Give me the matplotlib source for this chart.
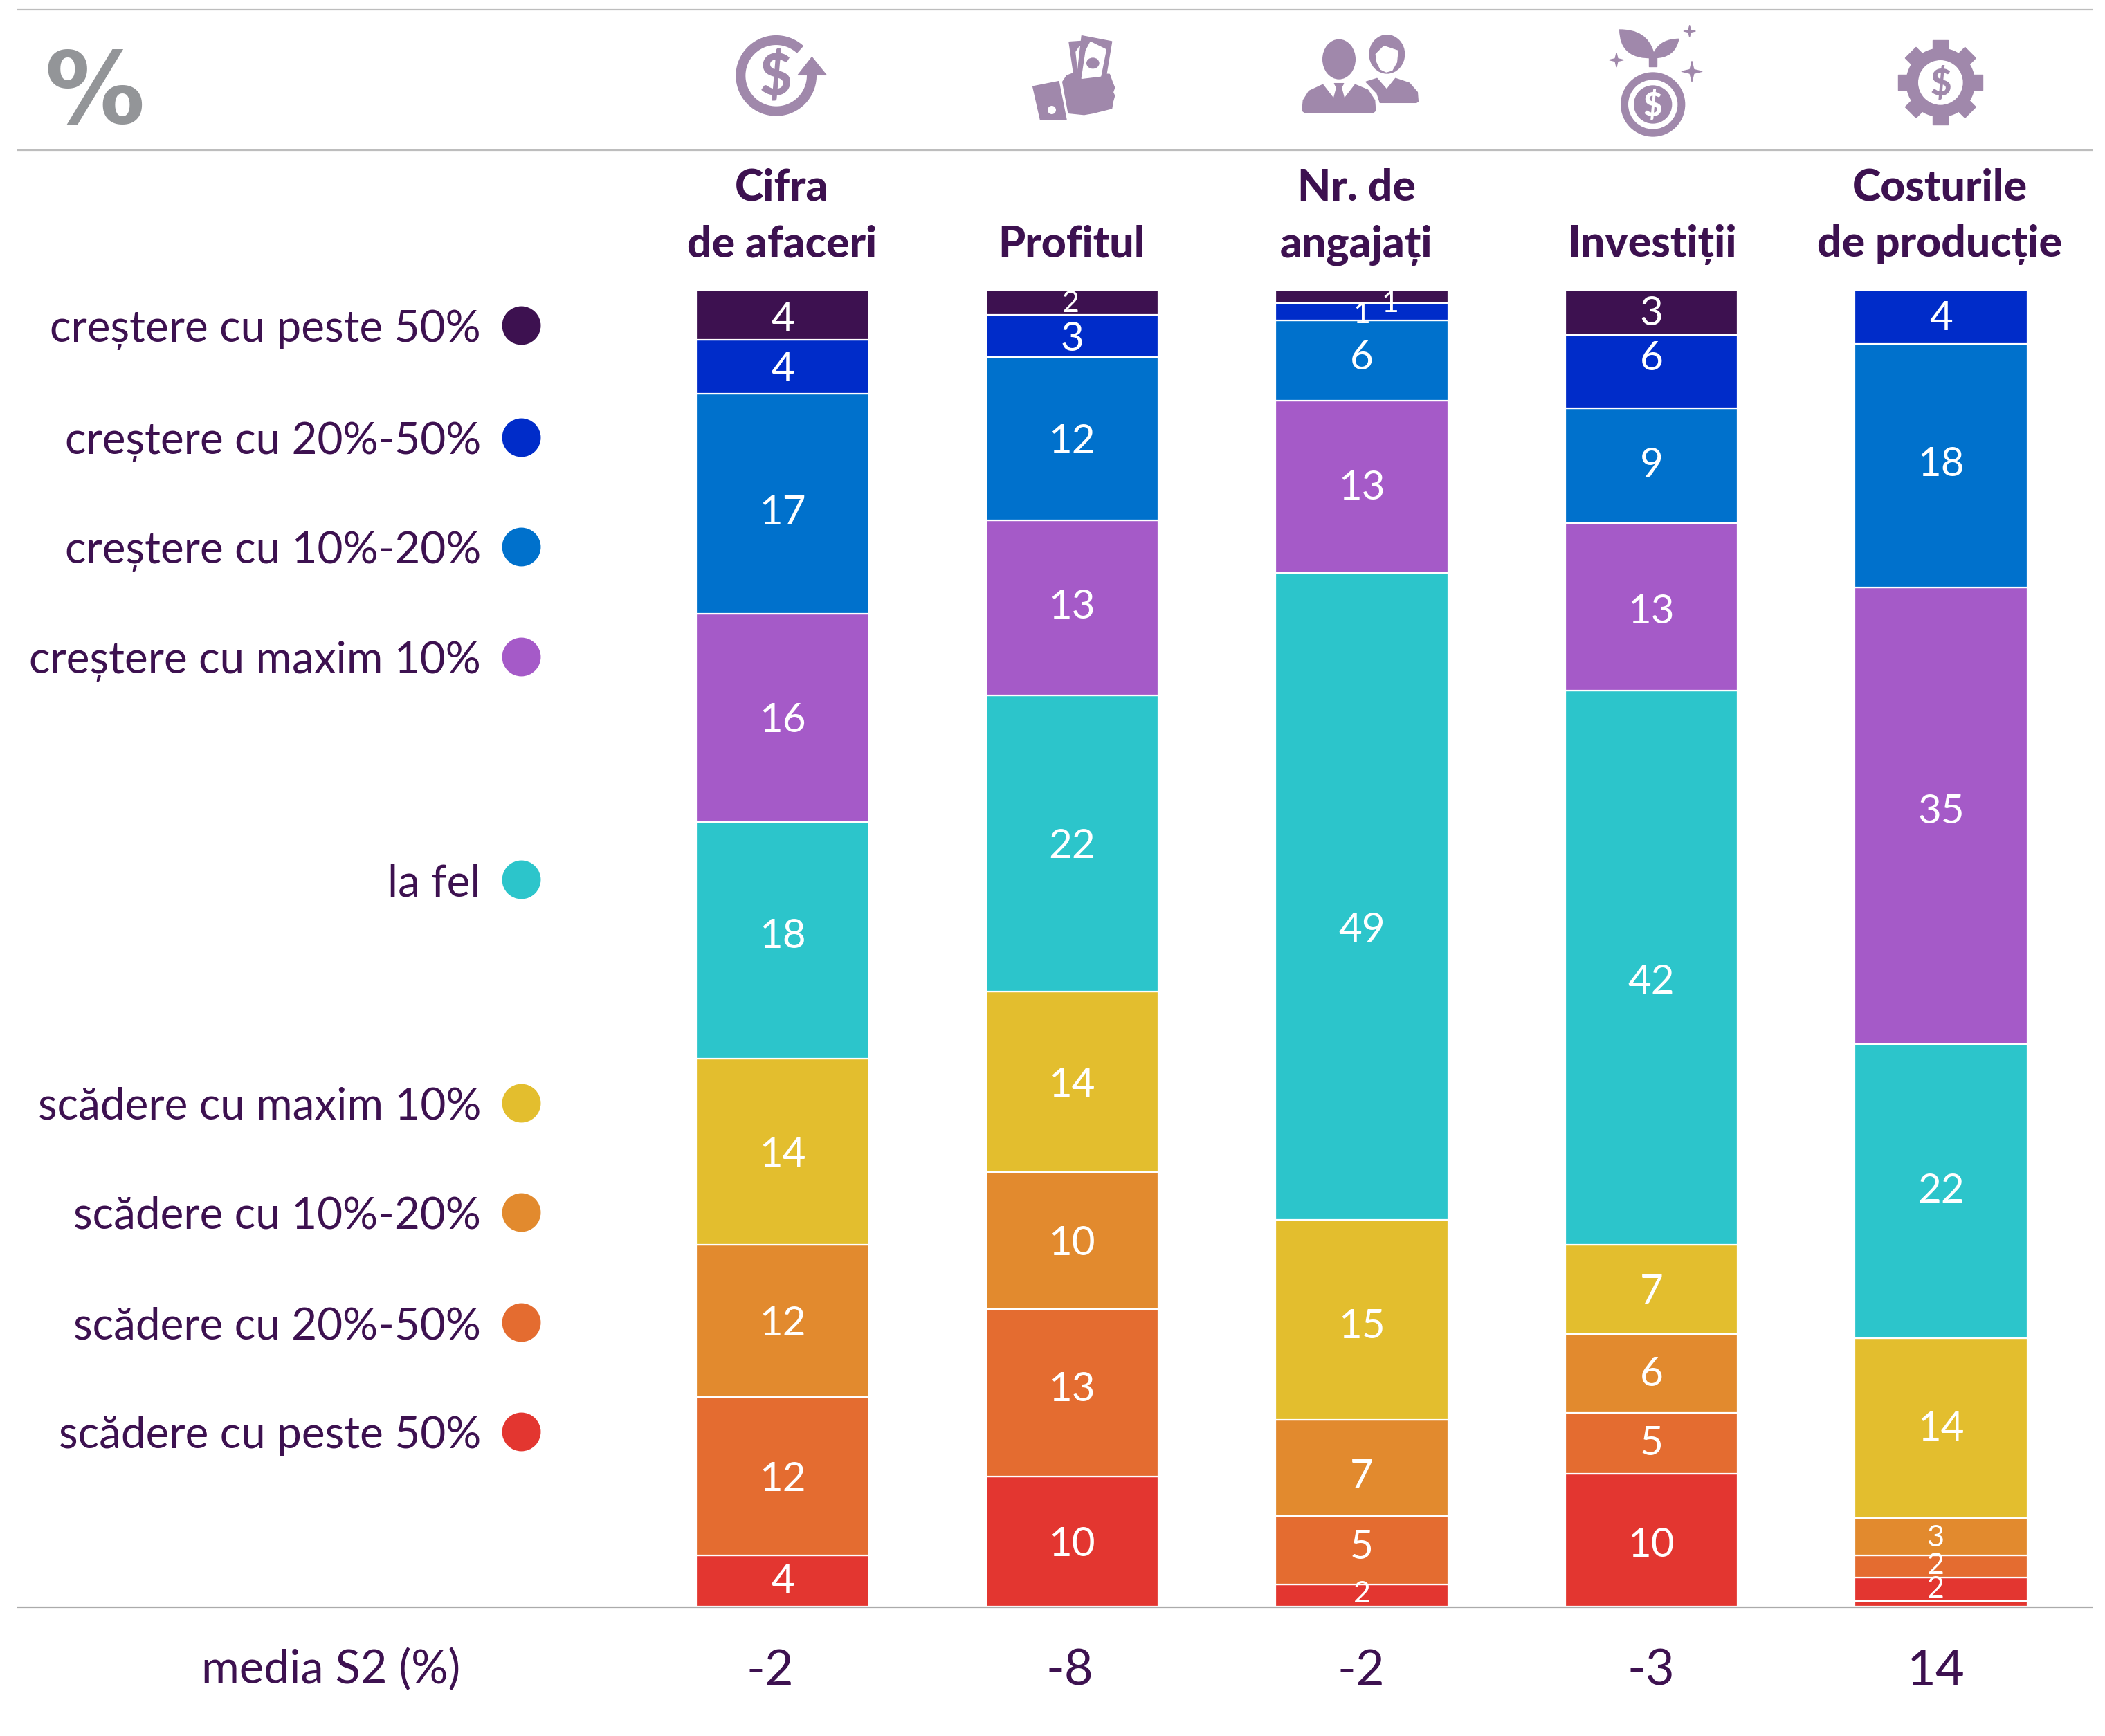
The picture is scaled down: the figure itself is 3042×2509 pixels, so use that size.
import numpy as np
import matplotlib
matplotlib.use("Agg")
import matplotlib.pyplot as plt
from matplotlib.patches import Polygon, Ellipse, PathPatch
from matplotlib.path import Path

plt.rcParams['font.family'] = ['Lato', 'Noto Sans', 'DejaVu Sans']

categories = ["Cifra\nde afaceri", "Profitul", "Nr. de\nangajați", "Investiții", "Costurile\nde producție"]
media_s2 = ["-2", "-8", "-2", "-3", "14"]

crestere_peste_50 = [3.8, 1.9, 1.0, 3.4, 0.0]
crestere_20_50 = [4.1, 3.2, 1.3, 5.6, 4.1]
crestere_10_20 = [16.7, 12.4, 6.1, 8.7, 18.5]
crestere_max_10 = [15.8, 13.3, 13.1, 12.7, 34.7]
la_fel = [18.0, 22.5, 49.1, 42.1, 22.3]
scadere_max_10 = [14.1, 13.7, 15.2, 6.8, 13.7]
scadere_10_20 = [11.6, 10.4, 7.3, 6.0, 2.8]
scadere_20_50 = [12.0, 12.7, 5.2, 4.6, 1.7]
scadere_peste_50 = [3.9, 9.9, 1.7, 10.1, 1.8]
rest = [0.0, 0.0, 0.0, 0.0, 0.4]

series_names = ["creștere cu peste 50%", "creștere cu 20%-50%", "creștere cu 10%-20%",
                "creștere cu maxim 10%", "la fel", "scădere cu maxim 10%",
                "scădere cu 10%-20%", "scădere cu 20%-50%", "scădere cu peste 50%"]
series_values = [crestere_peste_50, crestere_20_50, crestere_10_20, crestere_max_10, la_fel,
                 scadere_max_10, scadere_10_20, scadere_20_50, scadere_peste_50, rest]
colors = ["#3D1150", "#002CC9", "#0071CC", "#A55AC8", "#2CC5CB",
          "#E3BE2E", "#E28A2E", "#E46C30", "#E33630", "#E33630"]

label_texts = [
    ["4", "2", "1", "3", ""],
    ["4", "3", "1", "6", "4"],
    ["17", "12", "6", "9", "18"],
    ["16", "13", "13", "13", "35"],
    ["18", "22", "49", "42", "22"],
    ["14", "14", "15", "7", "14"],
    ["12", "10", "7", "6", "3"],
    ["12", "13", "5", "5", "2"],
    ["4", "10", "2", "10", "2"],
    ["", "", "", "", ""],
]

# label nudges (series, column): (dx, dy) in pixels, dy downwards
nudges = {(0, 0): (0, 3), (2, 0): (0, 9), (4, 0): (0, -10), (8, 0): (0, -3), (3, 1): (0, -6), (7, 1): (0, -9),
          (0, 1): (-2, -2), (0, 2): (41, 7), (2, 2): (0, -8), (3, 2): (0, -2), (4, 2): (0, 45), (5, 2): (0, 6),
          (6, 2): (0, 9), (7, 2): (0, -8), (8, 2): (0, -5), (1, 3): (0, -23), (0, 3): (0, -2), (2, 3): (0, -5),
          (3, 3): (0, 3), (4, 3): (0, 17), (6, 3): (0, -3), (7, 3): (0, -4), (8, 3): (0, 3), (3, 4): (0, -10),
          (2, 4): (0, -6), (1, 4): (0, -2), (4, 4): (0, -5), (5, 4): (0, -3), (1, 2): (0, 1),
          (6, 4): (-8, -2), (7, 4): (-8, -4), (8, 4): (-8, -4)}

W, H = 3042, 2509
fig = plt.figure(figsize=(W / 100, H / 100), dpi=100, facecolor="white")
DARK = "#3D1150"
ICON = "#A088AB"

# main bar axes: categories 0..4, percent 0..100
x0 = 1131 - 418.5 * 0.5
x1 = 2805 + 418.5 * 0.5
ytop, ybot = 419, 2322
ax = fig.add_axes([x0 / W, 1 - ybot / H, (x1 - x0) / W, (ybot - ytop) / H])
ax.set_xlim(-0.5, 4.5)
ax.set_ylim(0, 100)
ax.axis("off")
xs = np.arange(len(categories))
bottom = np.zeros(len(categories))
for i in range(len(series_values) - 1, -1, -1):
    vals = np.array(series_values[i])
    ax.bar(xs, vals, bottom=bottom, width=0.595, color=colors[i], edgecolor="white", linewidth=1.6)
    for j, t in enumerate(label_texts[i]):
        if not t:
            continue
        dx, dy = nudges.get((i, j), (0, 0))
        size = 31 if vals[j] < 3 else 42
        ax.annotate(t, (xs[j], bottom[j] + vals[j] / 2), xytext=(dx, -dy - size * 0.5),
                    textcoords="offset pixels", ha="center", va="baseline",
                    color="white", fontsize=size, annotation_clip=False)
    bottom += vals

# overlay in pixel coordinates for the header furniture
ov = fig.add_axes([0, 0, 1, 1], zorder=3)
ov.set_xlim(0, W)
ov.set_ylim(H, 0)
ov.axis("off")
ov.patch.set_alpha(0)

for y, c in [(14, "#BDBDBD"), (217, "#BDBDBD"), (2323, "#ABABAB")]:
    ov.plot([25, 3025], [y, y], color=c, lw=1.6, solid_capstyle="butt")

ov.text(137, 178, "%", ha="center", va="baseline", color="#939598", fontsize=104,
        fontweight="bold", family=["DejaVu Sans"])

# legend
legend_y = [470, 632, 790, 949, 1271, 1594, 1752, 1911, 2069]
legend_x = 753
for name, c, y in zip(series_names, colors, legend_y):
    ov.scatter([legend_x], [y], s=1620, color=c, linewidths=0)
    ov.text(695, y + 24, name, ha="right", va="baseline", color=DARK, fontsize=46)

# headers
header_x = [1130, 1549, 1960, 2388, 2803]
for name, x in zip(categories, header_x):
    lines = name.split("\n")
    base = [371] if len(lines) == 1 else [290, 371]
    for l, b in zip(lines, base):
        ov.text(x, b, l, ha="center", va="baseline", color=DARK, fontsize=45, fontweight="black")

# media row
ov.text(478, 2433, "media S2 (%)", ha="center", va="baseline", color=DARK, fontsize=48)
media_x = [1113, 1546, 1967, 2386, 2797]
for v, x in zip(media_s2, media_x):
    ov.text(x, 2436, v, ha="center", va="baseline", color=DARK, fontsize=52)


# icons: shapes given in zoomed local units
def pts(ox, oy, p):
    return [(ox + a / 3, oy + b / 3) for a, b in p]


def poly(ox, oy, p, c=ICON):
    ov.add_patch(Polygon(pts(ox, oy, p), closed=True, fc=c, ec=c, lw=1, joinstyle="round"))


def ell(ox, oy, cx, cy, rx, ry=None, c=ICON):
    ry = rx if ry is None else ry
    ov.add_patch(Ellipse((ox + cx / 3, oy + cy / 3), 2 * rx / 3, 2 * ry / 3, fc=c, ec="none"))


def curve(ox, oy, verts, codes, c=ICON):
    ov.add_patch(PathPatch(Path(pts(ox, oy, verts), codes), fc=c, ec="none"))


def star(ox, oy, cx, cy, r):
    p = []
    for k in range(8):
        a = k * np.pi / 4
        rr = r if k % 2 == 0 else r * 0.27
        p.append((cx + rr * np.cos(a), cy + rr * np.sin(a)))
    poly(ox, oy, p)


# icon 1: circular arrow with dollar
ox, oy = 1040, 30
t = np.radians(np.linspace(-48, -360, 120))
outer = [(245 + 173 * np.cos(a), 238 + 173 * np.sin(a)) for a in t]
inner = [(245 + 135 * np.cos(a), 238 + 135 * np.sin(a)) for a in t[::-1]]
poly(ox, oy, outer + inner)
poly(ox, oy, [(340, 235), (400, 158), (462, 235)])
ov.text(ox + 243 / 3, oy + 324 / 3, "$", ha="center", va="baseline", color=ICON, fontsize=58, fontweight="black")

# icon 2: hand holding money
ox, oy = 1470, 30
poly(ox, oy, [(197, 265), (215, 238), (250, 225), (400, 232), (412, 265), (422, 290), (415, 310),
              (422, 325), (415, 350), (410, 380), (330, 400), (290, 407), (222, 400)])
poly(ox, oy, [(225, 92), (285, 88), (285, 230), (245, 230)])
poly(ox, oy, [(255, 135), (272, 110), (263, 210)], "white")
poly(ox, oy, [(280, 65), (410, 90), (385, 240), (260, 240)])
poly(ox, oy, [(318, 92), (385, 125), (362, 240), (280, 250), (298, 130)], "white")
ell(ox, oy, 328, 184, 28, 24)
poly(ox, oy, [(68, 285), (180, 263), (213, 428), (100, 428)])
ell(ox, oy, 150, 387, 18, 18, "white")

# icon 3: people
ox, oy = 1870, 30
ell(ox, oy, 403, 145, 78, 85)
poly(ox, oy, [(355, 145), (390, 110), (450, 130), (445, 180), (425, 215), (400, 222), (375, 210), (360, 180)], "white")
poly(ox, oy, [(312, 265), (360, 250), (402, 298), (440, 250), (500, 270), (535, 310), (538, 350),
              (530, 355), (373, 355), (360, 315)])
ell(ox, oy, 195, 167, 72, 87)
poly(ox, oy, [(36, 390), (40, 345), (65, 305), (125, 277), (172, 338), (185, 290), (175, 272), (215, 272),
              (205, 290), (218, 338), (265, 277), (320, 300), (350, 345), (353, 390), (345, 397), (45, 397)])

# icon 4: plant and coin
ox, oy = 2310, 25
C3 = Path.CURVE3
curve(ox, oy, [(90, 52), (210, 50), (240, 150), (240, 178), (90, 185), (90, 52), (90, 52)],
      [Path.MOVETO, C3, C3, Path.LINETO, C3, C3, Path.CLOSEPOLY])
curve(ox, oy, [(240, 150), (270, 92), (350, 92), (335, 178), (240, 178), (240, 150)],
      [Path.MOVETO, C3, C3, C3, C3, Path.CLOSEPOLY])
poly(ox, oy, [(220, 175), (253, 175), (253, 213), (220, 213)])
ell(ox, oy, 236, 378, 140)
ell(ox, oy, 236, 378, 107, 107, "white")
ell(ox, oy, 236, 378, 83)
ov.text(ox + 236 / 3, oy + 429 / 3, "$", ha="center", va="baseline", color="white", fontsize=34, fontweight="black")
star(ox, oy, 78, 185, 30)
star(ox, oy, 395, 60, 25)
star(ox, oy, 405, 235, 44)

# icon 5: gear
ox, oy = 2715, 30
for k in range(8):
    a = k * np.pi / 4
    ca, sa = np.cos(a), np.sin(a)
    tooth = [(100, -33), (183, -33), (183, 33), (100, 33)]
    poly(ox, oy, [(268 + u * ca - v * sa, 268 + u * sa + v * ca) for u, v in tooth])
ell(ox, oy, 268, 268, 150)
ell(ox, oy, 268, 268, 97, 97, "white")
ov.text(ox + 268 / 3, oy + 325 / 3, "$", ha="center", va="baseline", color=ICON, fontsize=38, fontweight="black")

fig.savefig("out.png", dpi=100, facecolor="white")
